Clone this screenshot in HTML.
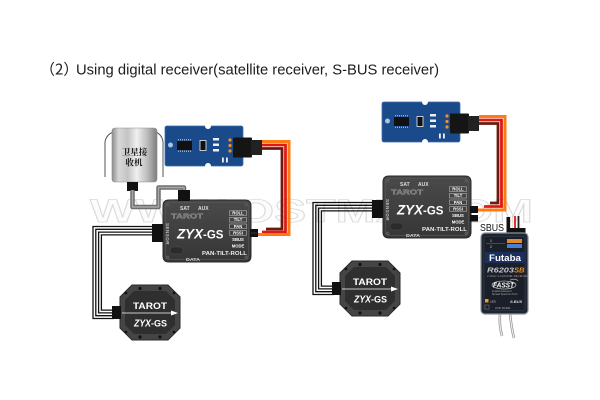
<!DOCTYPE html>
<html><head><meta charset="utf-8"><style>
html,body{margin:0;padding:0;background:#fff;}
#wrap{position:relative;width:600px;height:400px;overflow:hidden;background:#fff;}
#rx{position:absolute;left:481px;top:233px;width:47px;height:81px;background:#232a36;border-radius:4px;z-index:0;}
svg{position:absolute;left:0;top:0;display:block;font-family:"Liberation Sans",sans-serif;z-index:1;}
</style></head><body>
<div id="wrap">
<div id="rx"></div>
<svg width="600" height="400" viewBox="0 0 600 400" xmlns="http://www.w3.org/2000/svg">
<defs>
<linearGradient id="silver" x1="0" y1="0" x2="1" y2="0">
<stop offset="0" stop-color="#8e8e8e"/><stop offset="0.15" stop-color="#d8d8d8"/><stop offset="0.35" stop-color="#c4c4c4"/><stop offset="0.55" stop-color="#f0f0f0"/><stop offset="0.8" stop-color="#b8b8b8"/><stop offset="1" stop-color="#7e7e7e"/>
</linearGradient>
<linearGradient id="boxg" x1="0" y1="0" x2="0" y2="1">
<stop offset="0" stop-color="#4a4a4a"/><stop offset="1" stop-color="#363636"/>
</linearGradient>
</defs>

<!-- title -->
<text y="74.5" font-size="15" fill="#1c1c1c"><tspan x="40" font-family="Noto Sans CJK SC, sans-serif">（2）</tspan><tspan x="76" font-family="Liberation Sans, sans-serif" textLength="363" lengthAdjust="spacingAndGlyphs">Using digital receiver(satellite receiver, S-BUS receiver)</tspan></text>

<!-- watermark -->
<text x="90" y="222" font-family="Liberation Sans, sans-serif" font-weight="bold" font-size="32" fill="#fcfcfc" stroke="#dadada" stroke-width="0.8" textLength="443" lengthAdjust="spacingAndGlyphs">WWW.OSTMX.COM</text>

<!-- ===== LEFT DIAGRAM ===== -->
<g>
<path d="M113,132 Q104,136 105,146 V177" fill="none" stroke="#555" stroke-width="1"/>
<path d="M156,132 Q164,136 163,146 V177" fill="none" stroke="#555" stroke-width="1"/>
<rect x="112" y="128" width="45" height="54" rx="3" fill="url(#silver)" stroke="#8a8a8a" stroke-width="0.6"/>
<text x="134.5" y="155" font-family="Noto Serif CJK SC, Noto Sans CJK SC, serif" font-weight="bold" font-size="8.5" fill="#111" text-anchor="middle">卫星接</text>
<text x="134" y="165.5" font-family="Noto Serif CJK SC, Noto Sans CJK SC, serif" font-weight="bold" font-size="8.5" fill="#111" text-anchor="middle">收机</text>
<rect x="127" y="182" width="11" height="9" fill="#111"/>
</g>
<path d="M132.5,190 V207 H158.5 V187.5 H184 V196" fill="none" stroke="#6e6e6e" stroke-width="4.5" stroke-linejoin="round"/>
<path d="M132.5,190 V207 H158.5 V187.5 H184 V196" fill="none" stroke="#a9a9a9" stroke-width="1.4" stroke-linejoin="round"/>

<path d="M262,148.5 H282 V229 H266" fill="none" stroke="#6b1a10" stroke-width="2.8"/>
<path d="M262,145 H285.5 V232 H262" fill="none" stroke="#e01a10" stroke-width="2.8"/>
<path d="M262,141.5 H289 V234.5 H257" fill="none" stroke="#ff7a12" stroke-width="3"/>

<g>
<rect x="165" y="126" width="78" height="40" rx="2" fill="#1a4a8a" stroke="#3c6fb0" stroke-width="0.8"/>
<circle cx="208" cy="126" r="3" fill="#fff"/>
<circle cx="208" cy="166" r="3" fill="#fff"/>
<circle cx="170.5" cy="145" r="2.5" fill="#a9c3e0"/>
<rect x="177" y="141" width="15" height="9" fill="#111"/>
<path d="M178,139.8 H191 M178,151.2 H191" stroke="#ccc" stroke-width="1.2" stroke-dasharray="1 1"/>
<rect x="200" y="140.5" width="6" height="10" fill="#111" stroke="#eee" stroke-width="0.8"/>
<rect x="213" y="138" width="6" height="2.5" fill="#eee"/>
<rect x="213" y="143.5" width="6" height="2.5" fill="#eee"/>
<rect x="213" y="149" width="6" height="2.5" fill="#eee"/>
<circle cx="230" cy="140" r="1.6" fill="#f0902a"/>
<circle cx="230" cy="145.5" r="1.6" fill="#f0902a"/>
<circle cx="230" cy="151" r="1.6" fill="#f0902a"/>
<rect x="222" y="157.5" width="1.8" height="5" fill="#eee"/>
<rect x="226" y="157.5" width="1.8" height="5" fill="#eee"/>
<rect x="233" y="137.5" width="19" height="20" rx="1" fill="#151515"/>
<rect x="251" y="140" width="11" height="15" fill="#222"/>
</g>

<g fill="none" stroke="#111" stroke-width="1.3">
<path d="M152,226.5 H93 V318.5 H114"/>
<path d="M152,229.3 H95.8 V315.7 H114"/>
<path d="M152,232.1 H98.6 V312.9 H114"/>
<path d="M152,234.9 H101.4 V310.1 H114"/>
</g>

<g>
<path d="M169,200 H245 Q251,200 251,206 V256 Q251,262 245,262 H169 Q163,262 163,256 V206 Q163,200 169,200Z" fill="url(#boxg)" stroke="#2a2a2a" stroke-width="1"/>
<rect x="165.5" y="202.5" width="83" height="57" rx="4" fill="none" stroke="#555" stroke-width="0.7"/>
<circle cx="167.5" cy="204.5" r="2" fill="#555"/>
<circle cx="246.5" cy="204.5" r="2" fill="#555"/>
<circle cx="167.5" cy="257.5" r="2" fill="#555"/>
<circle cx="246.5" cy="257.5" r="2" fill="#555"/>
<text x="180" y="209.8" font-size="5" font-weight="bold" fill="#ddd">SAT</text>
<text x="198" y="209.8" font-size="5" font-weight="bold" fill="#ddd">AUX</text>
<text x="171" y="218.5" font-size="7.5" font-weight="bold" fill="#6d6d6d" stroke="#a0a0a0" stroke-width="0.3" textLength="32" lengthAdjust="spacingAndGlyphs">TAROT</text>
<text transform="translate(166,223) rotate(90)" font-size="4.5" font-weight="bold" fill="#bbb" letter-spacing="0.5">SENSOR</text>
<text x="177" y="238.5" font-size="14" font-weight="bold" font-style="italic" fill="#fff" textLength="26" lengthAdjust="spacingAndGlyphs">ZYX</text>
<text x="203" y="238.5" font-size="11.5" font-weight="bold" fill="#fff">-GS</text>
<g fill="none" stroke="#ccc" stroke-width="0.5">
<rect x="229.5" y="210.8" width="17" height="4.6"/>
<rect x="229.5" y="217.4" width="17" height="4.6"/>
<rect x="229.5" y="224" width="17" height="4.6"/>
<rect x="229.5" y="230.6" width="17" height="4.6"/>
</g>
<g font-size="4.2" font-weight="bold" fill="#fff" text-anchor="middle">
<text x="238" y="214.6">ROLL</text>
<text x="238" y="221.2">TILT</text>
<text x="238" y="227.8">PAN</text>
<text x="238" y="234.4">RSSI</text>
<text x="238" y="241">SBUS</text>
<text x="238" y="247.6">MODE</text>
</g>
<text x="202" y="254.8" font-size="5" font-weight="bold" fill="#eee" textLength="45" lengthAdjust="spacingAndGlyphs">PAN-TILT-ROLL</text>
<rect x="170" y="247" width="13" height="7" rx="3.5" fill="#2b2b2b" stroke="#555" stroke-width="0.4"/>
<text x="186" y="261" font-size="4.5" font-weight="bold" fill="#ddd" textLength="14" lengthAdjust="spacingAndGlyphs">DATA</text>
</g>
<rect x="178" y="190" width="12" height="11" fill="#111"/>
<rect x="152" y="224" width="11" height="18" fill="#111"/>
<rect x="250" y="229" width="8" height="8" fill="#111"/>
<line x1="251" y1="233" x2="257" y2="233" stroke="#555" stroke-width="0.6"/>

<g>
<path d="M132,285 H168 L180,297 V328 L168,340 H132 L120,328 V297Z" fill="#454545" stroke="#2a2a2a" stroke-width="1"/>
<path d="M134,291 H166 L175,300 V325 L166,334 H134 L125,325 V300Z" fill="#2f2f2f"/>
<circle cx="140" cy="288.5" r="1.6" fill="#111"/>
<circle cx="160" cy="288.5" r="1.6" fill="#111"/>
<circle cx="140" cy="337" r="1.6" fill="#111"/>
<circle cx="160" cy="337" r="1.6" fill="#111"/>
<circle cx="126" cy="293" r="1.3" fill="#111"/>
<circle cx="174" cy="293" r="1.3" fill="#111"/>
<circle cx="126" cy="332" r="1.3" fill="#111"/>
<circle cx="174" cy="332" r="1.3" fill="#111"/>
<text x="150" y="309" font-size="9.5" font-weight="bold" fill="#fff" text-anchor="middle" textLength="34" lengthAdjust="spacingAndGlyphs">TAROT</text>
<line x1="122" y1="313" x2="172" y2="313" stroke="#fff" stroke-width="0.8"/>
<path d="M171,310.5 L178,313 L171,315.5Z" fill="#fff"/>
<text x="134" y="326.5" font-size="10" font-weight="bold" font-style="italic" fill="#fff" textLength="17" lengthAdjust="spacingAndGlyphs">ZYX</text>
<text x="151" y="326.5" font-size="9" font-weight="bold" fill="#fff">-GS</text>
</g>
<rect x="112" y="306" width="9" height="13" fill="#111"/>

<!-- ===== RIGHT DIAGRAM ===== -->
<path d="M479,123.5 H498 V203 H490" fill="none" stroke="#6b1a10" stroke-width="2.8"/>
<path d="M479,120 H501.5 V206.5 H484" fill="none" stroke="#e01a10" stroke-width="2.8"/>
<path d="M479,116.5 H505 V210 H476" fill="none" stroke="#ff7a12" stroke-width="3"/>

<g transform="translate(217,-24)">
<rect x="165" y="126" width="78" height="40" rx="2" fill="#1a4a8a" stroke="#3c6fb0" stroke-width="0.8"/>
<circle cx="208" cy="126" r="3" fill="#fff"/>
<circle cx="208" cy="166" r="3" fill="#fff"/>
<circle cx="170.5" cy="145" r="2.5" fill="#a9c3e0"/>
<rect x="177" y="141" width="15" height="9" fill="#111"/>
<path d="M178,139.8 H191 M178,151.2 H191" stroke="#ccc" stroke-width="1.2" stroke-dasharray="1 1"/>
<rect x="200" y="140.5" width="6" height="10" fill="#111" stroke="#eee" stroke-width="0.8"/>
<rect x="213" y="138" width="6" height="2.5" fill="#eee"/>
<rect x="213" y="143.5" width="6" height="2.5" fill="#eee"/>
<rect x="213" y="149" width="6" height="2.5" fill="#eee"/>
<circle cx="230" cy="140" r="1.6" fill="#f0902a"/>
<circle cx="230" cy="145.5" r="1.6" fill="#f0902a"/>
<circle cx="230" cy="151" r="1.6" fill="#f0902a"/>
<rect x="222" y="157.5" width="1.8" height="5" fill="#eee"/>
<rect x="226" y="157.5" width="1.8" height="5" fill="#eee"/>
<rect x="233" y="137.5" width="19" height="20" rx="1" fill="#151515"/>
<rect x="251" y="140" width="11" height="15" fill="#222"/>
</g>

<g transform="translate(220,-24)">
<g fill="none" stroke="#111" stroke-width="1.3">
<path d="M152,226.5 H93 V318.5 H114"/>
<path d="M152,229.3 H95.8 V315.7 H114"/>
<path d="M152,232.1 H98.6 V312.9 H114"/>
<path d="M152,234.9 H101.4 V310.1 H114"/>
</g>
<path d="M169,200 H245 Q251,200 251,206 V256 Q251,262 245,262 H169 Q163,262 163,256 V206 Q163,200 169,200Z" fill="url(#boxg)" stroke="#2a2a2a" stroke-width="1"/>
<rect x="165.5" y="202.5" width="83" height="57" rx="4" fill="none" stroke="#555" stroke-width="0.7"/>
<circle cx="167.5" cy="204.5" r="2" fill="#555"/>
<circle cx="246.5" cy="204.5" r="2" fill="#555"/>
<circle cx="167.5" cy="257.5" r="2" fill="#555"/>
<circle cx="246.5" cy="257.5" r="2" fill="#555"/>
<text x="180" y="209.8" font-size="5" font-weight="bold" fill="#ddd">SAT</text>
<text x="198" y="209.8" font-size="5" font-weight="bold" fill="#ddd">AUX</text>
<text x="171" y="218.5" font-size="7.5" font-weight="bold" fill="#6d6d6d" stroke="#a0a0a0" stroke-width="0.3" textLength="32" lengthAdjust="spacingAndGlyphs">TAROT</text>
<text transform="translate(166,223) rotate(90)" font-size="4.5" font-weight="bold" fill="#bbb" letter-spacing="0.5">SENSOR</text>
<text x="177" y="238.5" font-size="14" font-weight="bold" font-style="italic" fill="#fff" textLength="26" lengthAdjust="spacingAndGlyphs">ZYX</text>
<text x="203" y="238.5" font-size="11.5" font-weight="bold" fill="#fff">-GS</text>
<g fill="none" stroke="#ccc" stroke-width="0.5">
<rect x="229.5" y="210.8" width="17" height="4.6"/>
<rect x="229.5" y="217.4" width="17" height="4.6"/>
<rect x="229.5" y="224" width="17" height="4.6"/>
<rect x="229.5" y="230.6" width="17" height="4.6"/>
</g>
<g font-size="4.2" font-weight="bold" fill="#fff" text-anchor="middle">
<text x="238" y="214.6">ROLL</text>
<text x="238" y="221.2">TILT</text>
<text x="238" y="227.8">PAN</text>
<text x="238" y="234.4">RSSI</text>
<text x="238" y="241">SBUS</text>
<text x="238" y="247.6">MODE</text>
</g>
<text x="202" y="254.8" font-size="5" font-weight="bold" fill="#eee" textLength="45" lengthAdjust="spacingAndGlyphs">PAN-TILT-ROLL</text>
<rect x="170" y="247" width="13" height="7" rx="3.5" fill="#2b2b2b" stroke="#555" stroke-width="0.4"/>
<text x="186" y="261" font-size="4.5" font-weight="bold" fill="#ddd" textLength="14" lengthAdjust="spacingAndGlyphs">DATA</text>
<rect x="152" y="224" width="11" height="18" fill="#111"/>
<rect x="250" y="230" width="8" height="7" fill="#111"/>
<rect x="250" y="239" width="8" height="6.5" fill="#111"/>
<path d="M132,285 H168 L180,297 V328 L168,340 H132 L120,328 V297Z" fill="#454545" stroke="#2a2a2a" stroke-width="1"/>
<path d="M134,291 H166 L175,300 V325 L166,334 H134 L125,325 V300Z" fill="#2f2f2f"/>
<circle cx="140" cy="288.5" r="1.6" fill="#111"/>
<circle cx="160" cy="288.5" r="1.6" fill="#111"/>
<circle cx="140" cy="337" r="1.6" fill="#111"/>
<circle cx="160" cy="337" r="1.6" fill="#111"/>
<circle cx="126" cy="293" r="1.3" fill="#111"/>
<circle cx="174" cy="293" r="1.3" fill="#111"/>
<circle cx="126" cy="332" r="1.3" fill="#111"/>
<circle cx="174" cy="332" r="1.3" fill="#111"/>
<text x="150" y="309" font-size="9.5" font-weight="bold" fill="#fff" text-anchor="middle" textLength="34" lengthAdjust="spacingAndGlyphs">TAROT</text>
<line x1="122" y1="313" x2="172" y2="313" stroke="#fff" stroke-width="0.8"/>
<path d="M171,310.5 L178,313 L171,315.5Z" fill="#fff"/>
<text x="134" y="326.5" font-size="10" font-weight="bold" font-style="italic" fill="#fff" textLength="17" lengthAdjust="spacingAndGlyphs">ZYX</text>
<text x="151" y="326.5" font-size="9" font-weight="bold" fill="#fff">-GS</text>
<rect x="112" y="306" width="9" height="13" fill="#111"/>
</g>

<!-- SBUS label -->
<text x="480" y="231" font-size="10" fill="#111" textLength="24" lengthAdjust="spacingAndGlyphs">SBUS</text>

<!-- receiver -->
<path d="M500,313 Q499,325 502,336" fill="none" stroke="#9a9a9a" stroke-width="2.6"/>
<path d="M500,313 Q499,325 502,336" fill="none" stroke="#f4f4f4" stroke-width="1"/>
<path d="M510,313 Q511,326 514,338" fill="none" stroke="#9a9a9a" stroke-width="2.6"/>
<path d="M510,313 Q511,326 514,338" fill="none" stroke="#f4f4f4" stroke-width="1"/>
<line x1="511.5" y1="216" x2="511.5" y2="229" stroke="#bbb" stroke-width="1.8"/>
<line x1="511.5" y1="216" x2="511.5" y2="229" stroke="#fff" stroke-width="0.9"/>
<line x1="515" y1="216" x2="515" y2="229" stroke="#e01a10" stroke-width="1.8"/>
<line x1="518.5" y1="216" x2="518.5" y2="229" stroke="#222" stroke-width="1.8"/>
<rect x="506.5" y="217" width="3.5" height="14" fill="#111"/>
<rect x="506.5" y="228" width="19" height="6" fill="#111"/>
<rect x="481" y="233" width="47" height="81" rx="4" fill="#1e2430" stroke="#8d939b" stroke-width="1.2"/>
<rect x="484" y="236.5" width="41" height="74" rx="2" fill="#1a1f29" stroke="#3a4352" stroke-width="0.6"/>
<line x1="486" y1="243.5" x2="505" y2="243.5" stroke="#777" stroke-width="0.5"/>
<text x="490" y="242" font-size="3.5" fill="#ddd">1</text>
<text x="490" y="248" font-size="3.5" fill="#ddd">2</text>
<rect x="507" y="239" width="15" height="4" fill="#e08a2a"/>
<rect x="507" y="244" width="15" height="4" fill="#4a7fd0"/>
<rect x="485" y="252" width="40" height="11" fill="#1b2f5c"/>
<text x="505" y="261" font-size="9" font-weight="bold" fill="#fff" text-anchor="middle" textLength="32" lengthAdjust="spacingAndGlyphs">Futaba</text>
<text x="487" y="272.5" font-size="7.5" font-weight="bold" font-style="italic" fill="#bfc4cc" textLength="27" lengthAdjust="spacingAndGlyphs">R6203</text>
<text x="514" y="272.5" font-size="7.5" font-weight="bold" font-style="italic" fill="#e8901e">SB</text>
<text x="487" y="277" font-size="2.8" fill="#999">2.4GHz 3-CHANNEL RECEIVER</text>
<ellipse cx="504" cy="285" rx="12" ry="4" fill="none" stroke="#ddd" stroke-width="0.6"/>
<text x="493" y="287.5" font-size="7" font-weight="bold" font-style="italic" fill="#fff" textLength="21" lengthAdjust="spacingAndGlyphs">FASST</text>
<path d="M510,280 Q516,278 518,281" fill="none" stroke="#e8901e" stroke-width="0.8"/>
<text x="492" y="292" font-size="2.5" fill="#aaa">Futaba Advanced</text>
<text x="492" y="295" font-size="2.5" fill="#aaa">Spread Spectrum Tech</text>
<rect x="485" y="299" width="3.5" height="3.5" fill="#e0a030"/>
<text x="490" y="302.5" font-size="3" fill="#ccc">LED</text>
<text x="510" y="303" font-size="4" font-weight="bold" font-style="italic" fill="#ddd">S.BUS</text>
<rect x="485" y="305" width="4" height="4" fill="none" stroke="#888" stroke-width="0.5"/>
<text x="495" y="309" font-size="2.8" fill="#aaa">LINK MODE</text>
</svg>
</div>
</body></html>
